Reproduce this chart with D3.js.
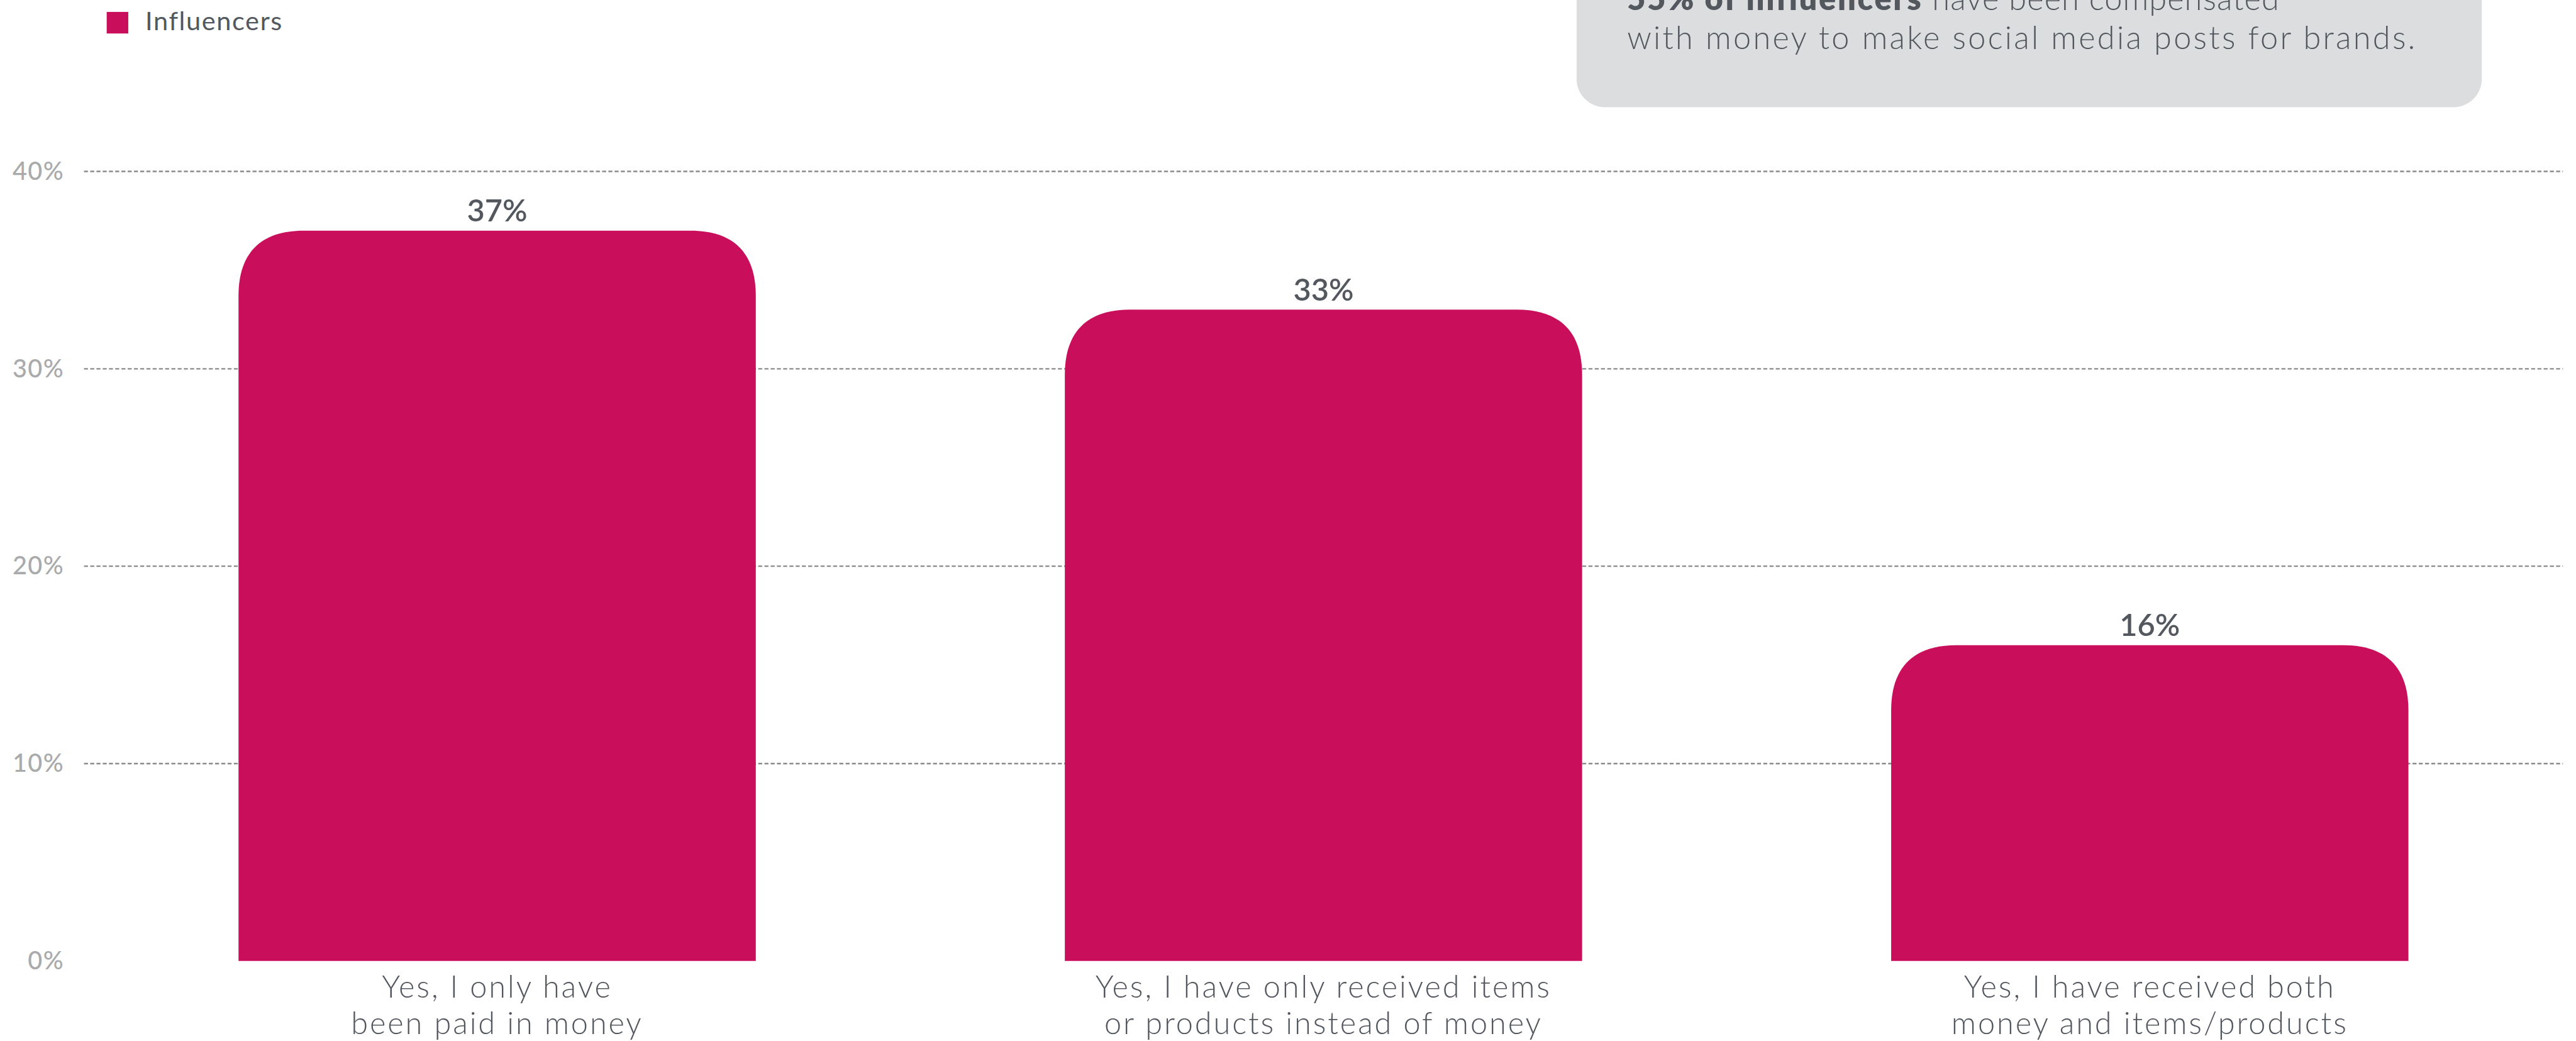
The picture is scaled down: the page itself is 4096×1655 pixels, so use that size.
<!DOCTYPE html>
<html>
<head>
<meta charset="utf-8">
<script src="https://cdn.jsdelivr.net/npm/d3@7"></script>
<style>
  html, body { margin: 0; padding: 0; background: #ffffff; overflow: hidden; }
  svg { display: block; }
  text { font-family: Lato, "Open Sans", "Noto Sans", sans-serif; }
</style>
</head>
<body>
<svg id="chart" width="4096" height="1655" viewBox="0 0 4539 1834"></svg>
<script>
// Survey answers (two-line labels) and share of influencers for each
const categories = [
  ["Yes, I only have", "been paid in money"],
  ["Yes, I have only received items", "or products instead of money"],
  ["Yes, I have received both", "money and items/products"]
];
const values = [37, 33, 16];
const yTicks = [0, 10, 20, 30, 40];
const seriesName = "Influencers";
const calloutBold = "55% of influencers";
const calloutLines = [" have been compensated", "with money to make social media posts for brands."];

const BAR = "#c90f5b";
const INK = "#53575e";
const TICK = "#a9aaab";

const svg = d3.select("#chart");

const plot = { left: 148, right: 4516, top: 302, bottom: 1693 };

const x = d3.scaleBand()
  .domain(d3.range(categories.length))
  .range([plot.left, plot.right])
  .paddingInner(0.374)
  .paddingOuter(0.187);

const y = d3.scaleLinear()
  .domain([0, 40])
  .range([plot.bottom, plot.top]);

// Callout box in the upper right (top edge runs off the canvas)
svg.append("rect")
  .attr("x", 2778).attr("y", -120)
  .attr("width", 4373 - 2778).attr("height", 189 + 120)
  .attr("rx", 50).attr("ry", 50)
  .attr("fill", "#dcdddf");

const callout = svg.append("text")
  .attr("x", 2867).attr("y", 18)
  .attr("font-size", 56)
  .attr("fill", INK);
callout.append("tspan").attr("font-weight", 800).attr("letter-spacing", 3).text(calloutBold);
callout.append("tspan").attr("font-weight", 300).attr("letter-spacing", 1.2).text(calloutLines[0]);
svg.append("text")
  .attr("x", 2867).attr("y", 86)
  .attr("font-size", 56)
  .attr("font-weight", 300)
  .attr("letter-spacing", 3.6)
  .attr("fill", INK)
  .text(calloutLines[1]);

// Legend
svg.append("rect")
  .attr("x", 188).attr("y", 21)
  .attr("width", 38).attr("height", 38)
  .attr("fill", BAR);
svg.append("text")
  .attr("x", 256).attr("y", 53)
  .attr("font-size", 46)
  .attr("letter-spacing", 1.8)
  .attr("fill", INK)
  .text(seriesName);

// Dashed gridlines (none at zero)
svg.append("g")
  .selectAll("line")
  .data(yTicks.filter(d => d > 0))
  .join("line")
  .attr("x1", plot.left).attr("x2", plot.right)
  .attr("y1", d => y(d)).attr("y2", d => y(d))
  .attr("stroke", "#8a8a8a")
  .attr("stroke-width", 2.6)
  .attr("stroke-dasharray", "7 4");

// Y axis labels
const yAxis = d3.axisLeft(y)
  .tickValues(yTicks)
  .tickSize(0)
  .tickPadding(35)
  .tickFormat(d => d + "%");
svg.append("g")
  .attr("transform", `translate(${plot.left},0)`)
  .call(yAxis)
  .call(g => g.select(".domain").remove())
  .call(g => g.selectAll("text")
    .attr("fill", TICK)
    .attr("font-size", 44)
    .attr("font-weight", 500)
    .attr("letter-spacing", 1.5)
    .attr("font-family", "Lato, sans-serif"));

// Bars with softly rounded top corners
function barPath(x0, y0, w, h) {
  const r = Math.min(115, h, w / 2);
  const k = 0.66;
  return `M${x0},${y0 + h}` +
    `L${x0},${y0 + r}` +
    `C${x0},${y0 + r - k * r} ${x0 + r - k * r},${y0} ${x0 + r},${y0}` +
    `L${x0 + w - r},${y0}` +
    `C${x0 + w - r + k * r},${y0} ${x0 + w},${y0 + r - k * r} ${x0 + w},${y0 + r}` +
    `L${x0 + w},${y0 + h}Z`;
}

svg.append("g")
  .selectAll("path")
  .data(values)
  .join("path")
  .attr("d", (d, i) => barPath(x(i), y(d), x.bandwidth(), y(0) - y(d)))
  .attr("fill", BAR);

// Value labels above bars
svg.append("g")
  .selectAll("text")
  .data(values)
  .join("text")
  .attr("x", (d, i) => x(i) + x.bandwidth() / 2)
  .attr("y", d => y(d) - 16)
  .attr("text-anchor", "middle")
  .attr("font-size", 54)
  .attr("font-weight", 600)
  .attr("fill", INK)
  .text(d => d + "%");

// Category labels below bars
const cat = svg.append("g")
  .selectAll("text")
  .data(categories)
  .join("text")
  .attr("x", (d, i) => x(i) + x.bandwidth() / 2)
  .attr("y", 1757)
  .attr("text-anchor", "middle")
  .attr("font-size", 54)
  .attr("font-weight", 300)
  .attr("letter-spacing", 3.2)
  .attr("fill", INK);
cat.selectAll("tspan")
  .data(d => d)
  .join("tspan")
  .attr("x", function () { return this.parentNode.getAttribute("x"); })
  .attr("dy", (d, j) => j === 0 ? 0 : 65)
  .text(d => d);
</script>
</body>
</html>
